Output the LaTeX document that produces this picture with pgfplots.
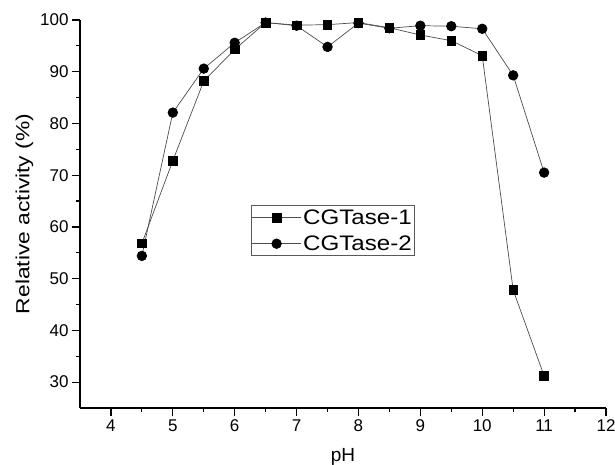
\documentclass[border=0pt]{standalone}
\usepackage{fontspec}
\setmainfont{Liberation Sans}
\newfontfamily\tickfont[Scale=1.7]{Liberation Sans}
\newfontfamily\xlabfont[Scale=1.9]{Liberation Sans}
\newfontfamily\ylabfont[Scale=1.9, FakeStretch=1.2]{Liberation Sans}
\newfontfamily\legfont[Scale=2.1, FakeStretch=1.15]{Liberation Sans}
\usepackage{pgfplots}
\pgfplotsset{compat=1.18}
\usetikzlibrary{calc}

\begin{document}
\begin{tikzpicture}
\begin{axis}[
    name=ax,
    scale only axis,
    width=526pt, height=388pt,
    xmin=3.5, xmax=12,
    ymin=25, ymax=100,
    axis lines=left,
    axis line style={-, line width=1.4pt},
    xtick={4,5,...,12},
    ytick={30,40,...,100},
    minor x tick num=1,
    minor y tick num=1,
    tick align=outside,
    major tick length=8pt,
    minor tick length=4pt,
    every tick/.style={black, line width=1.2pt},
    tick label style={font=\tickfont},
    /pgf/number format/assume math mode=true,
    xlabel={pH},
    ylabel={Relative activity (\%)},
    xlabel style={font=\xlabfont, yshift=-10pt},
    ylabel style={font=\ylabfont, yshift=0pt},
    legend style={
        at={(0.3245,0.523)}, anchor=north west,
        draw=gray!70!black, line width=0.8pt,
        font=\legfont,
        inner xsep=1pt, inner ysep=3pt,
        row sep=8pt,
        nodes={inner xsep=2pt, inner ysep=1pt},
        legend cell align=left,
    },
    legend image code/.code={
        \draw[#1, gray!60!black, line width=0.7pt] (0cm,0cm) -- (1.7cm,0cm);
        \draw[#1, mark repeat=2, mark phase=2] plot coordinates {(0cm,0cm) (0.85cm,0cm) (1.7cm,0cm)};
    },
]

\addplot[gray!60!black, line width=0.7pt, mark=square*, mark size=4.3pt,
    mark options={black, solid}] coordinates {
    (4.5,56.8) (5,72.8) (5.5,88.2) (6,94.3) (6.5,99.5) (7,99.0) (7.5,99.1)
    (8,99.5) (8.5,98.5) (9,97.1) (9.5,96.0) (10,93.1) (10.5,47.8) (11,31.2)
};
\addlegendentry{CGTase-1}

\addplot[gray!60!black, line width=0.7pt, mark=*, mark size=4.8pt,
    mark options={black, solid}] coordinates {
    (4.5,54.4) (5,82.1) (5.5,90.6) (6,95.6) (6.5,99.5) (7,98.9) (7.5,94.8)
    (8,99.4) (8.5,98.4) (9,98.9) (9.5,98.8) (10,98.3) (10.5,89.3) (11,70.5)
};
\addlegendentry{CGTase-2}

\end{axis}
\pgfresetboundingbox
\useasboundingbox ($(ax.south west)+(-80pt,-57pt)$) rectangle ($(ax.north east)+(9pt,20pt)$);
\end{tikzpicture}
\end{document}
